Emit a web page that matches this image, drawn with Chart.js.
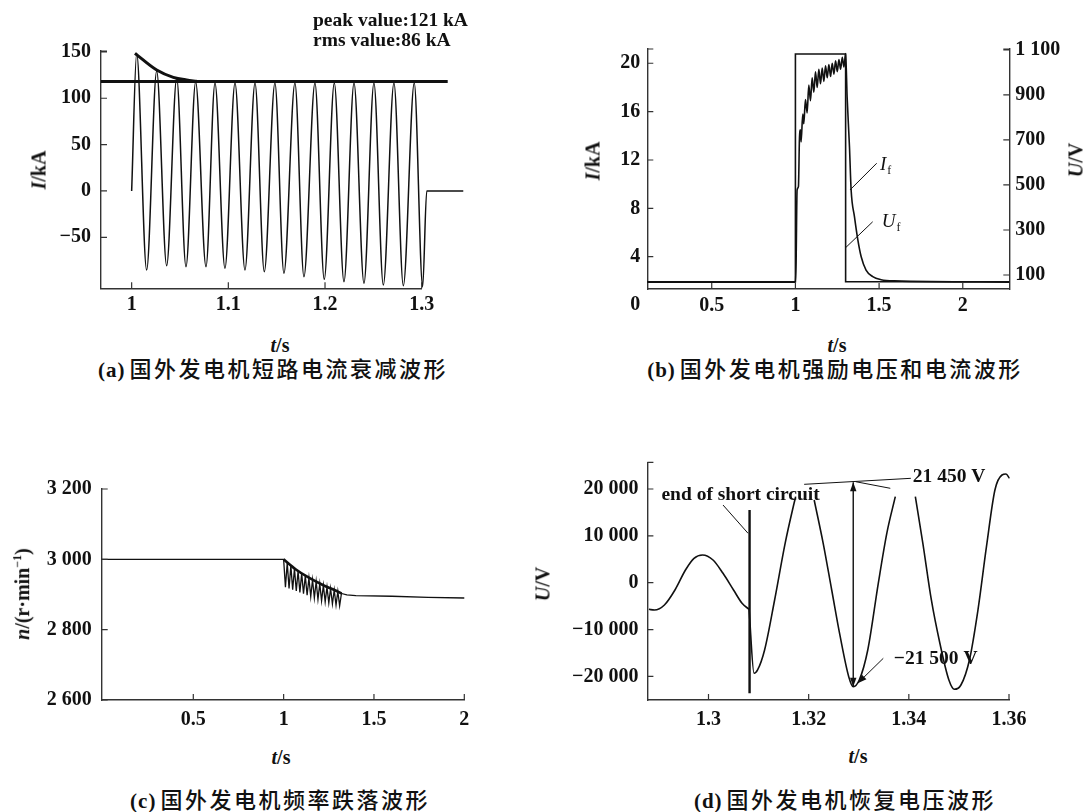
<!DOCTYPE html>
<html>
<head>
<meta charset="utf-8">
<script src="https://cdn.jsdelivr.net/npm/chart.js@4/dist/chart.umd.min.js"></script>
<style>
  html, body { margin: 0; padding: 0; background: #fff; }
  #page { position: relative; width: 1089px; height: 812px; overflow: hidden; background: #fff; }
  #page canvas { position: absolute; }
  .txt { position: absolute; font: bold 20px "Liberation Serif", serif; color: #111; white-space: nowrap; transform: translate(-50%, -50%); }
  .rot { transform: translate(-50%, -50%) rotate(-90deg); }
  .note { position: absolute; font: bold 19.5px "Liberation Serif", serif; color: #111; white-space: nowrap; transform: translateY(-50%); }
  .cap { position: absolute; font: 500 22px "Noto Sans CJK SC", sans-serif; letter-spacing: 2.5px; color: #111; white-space: nowrap; transform: translate(-50%, -50%); }
  .cap b { font: bold 21px "Liberation Serif", serif; letter-spacing: 1px; margin-right: 4px; }
  sup { font-size: 12px; }
</style>
</head>
<body>
<div id="page">
  <canvas id="chartA" width="480" height="330" style="left:0;top:0"></canvas>
  <canvas id="chartB" width="549" height="330" style="left:540px;top:0"></canvas>
  <canvas id="chartC" width="500" height="320" style="left:0;top:420px"></canvas>
  <canvas id="chartD" width="569" height="330" style="left:520px;top:410px"></canvas>

  <div class="note" style="left:313px;top:20px">peak value:121 kA</div>
  <div class="note" style="left:313px;top:40px">rms value:86 kA</div>

  <div class="txt rot" style="left:39px;top:170px"><i>I</i>/kA</div>
  <div class="txt" style="left:280px;top:345px"><i>t</i>/s</div>
  <div class="txt rot" style="left:593px;top:161px"><i>I</i>/kA</div>
  <div class="txt rot" style="left:1076px;top:160px"><i>U</i>/V</div>
  <div class="txt" style="left:837px;top:345px"><i>t</i>/s</div>
  <div class="txt rot" style="left:22px;top:594px"><i>n</i>/(r·min<sup>−1</sup>)</div>
  <div class="txt" style="left:281px;top:757px"><i>t</i>/s</div>
  <div class="txt rot" style="left:543px;top:584px"><i>U</i>/V</div>
  <div class="txt" style="left:858px;top:756px"><i>t</i>/s</div>

  <div class="cap" style="left:273px;top:367px"><b>(a)</b>国外发电机短路电流衰减波形</div>
  <div class="cap" style="left:835px;top:367px"><b>(b)</b>国外发电机强励电压和电流波形</div>
  <div class="cap" style="left:280px;top:798px"><b>(c)</b>国外发电机频率跌落波形</div>
  <div class="cap" style="left:845px;top:798px"><b>(d)</b>国外发电机恢复电压波形</div>
</div>

<script>
// ============================================
// GENERATOR FAULT WAVEFORMS
// (a) short-circuit current, (b) field forcing,
// (c) speed drop, (d) recovery voltage
// ============================================

const INK = '#111';
const AXIS = '#333';
const TICK_FONT = { family: 'Liberation Serif', size: 20, weight: 'bold' };

// ---- (a) short-circuit current decay ----
const aTime = [1.0, 1.0052, 1.0155, 1.0259, 1.0362, 1.0466, 1.0562, 1.0662, 1.0769, 1.0862, 1.0965,
    1.1069, 1.1172, 1.1276, 1.1372, 1.1482, 1.1575, 1.1689, 1.1782, 1.1896, 1.1992, 1.2096, 1.2196,
    1.2300, 1.2403, 1.2506, 1.2603, 1.2713, 1.2810, 1.2923, 1.3010, 1.3052, 1.3430];
const aCurrent = [0, 148.5, -85.2, 129.4, -80.6, 121.5, -81.7, 117.5, -81.7, 116.5, -83.4,
    116.5, -85.2, 116.5, -87.1, 116.5, -88.8, 116.5, -92.5, 116.5, -95.3, 116.5, -97.9,
    116.5, -99.6, 116.5, -101.4, 116.5, -102.2, 116.5, -103.3, 0, 0];
const aEnvTime = [1.0034, 1.0259, 1.0431, 1.0569, 1.0672];
const aEnvCurrent = [148.5, 130.5, 122.6, 119.7, 118.3];
const aPeakTime = [0.9683, 1.3269];
const aPeakCurrent = [118, 118];
const aXTicks = [1, 1.1, 1.2, 1.3];
const aXLabels = ['1', '1.1', '1.2', '1.3'];
const aYTicks = [-50, 0, 50, 100, 150];
const aYLabels = ['−50', '0', '50', '100', '150'];

// ---- (b) field voltage and current ----
const bTimeI = [0.115, 1.0, 1.004, 1.010, 1.018, 1.024, 1.030, 1.034, 1.044, 1.05, 1.06, 1.07, 1.08,
    1.09, 1.10, 1.11, 1.12, 1.13, 1.14, 1.15, 1.16, 1.17, 1.18, 1.19, 1.20, 1.21, 1.22, 1.23, 1.24,
    1.25, 1.26, 1.27, 1.28, 1.29, 1.30, 1.309, 1.323, 1.333, 1.353, 1.373, 1.393, 1.422, 1.462,
    1.512, 1.591, 2.278];
const bCurrent = [1.9, 1.9, 3.5, 9.5, 9.8, 13.7, 14.5, 13.5, 15.8, 15.0, 17.0, 15.9, 18.2,
    16.9, 18.8, 17.6, 19.3, 18.0, 19.5, 18.3, 19.6, 18.5, 19.8, 18.8, 19.9, 18.9, 20.0, 19.1, 20.2,
    19.3, 20.3, 19.5, 20.5, 19.7, 20.8, 17.2, 13.1, 9.5, 7.3, 5.4, 4.0, 2.9, 2.35,
    2.1, 2.0, 1.9];
const bTimeU = [0.115, 1.0, 1.0, 1.30, 1.30, 2.278];
const bVoltage = [70, 70, 1082, 1082, 70, 70];
const bXTicks = [0.5, 1, 1.5, 2];
const bXLabels = ['0.5', '1', '1.5', '2'];
const bYTicks = [4, 8, 12, 16, 20];
const bYLabels = ['4', '8', '12', '16', '20'];
const bY2Ticks = [100, 300, 500, 700, 900, 1100];
const bY2Labels = ['100', '300', '500', '700', '900', '1 100'];
const bExtraYTicks = [0];
const bExtraYLabels = ['0'];
const bLeaderFrom = [[1.326, 9.52], [1.2963, 4.70]];
const bLeaderTo = [[1.4857, 11.73], [1.4618, 6.89]];
const bNoteText = ['I', 'U'];
const bNoteSub = ['f', 'f'];
const bNoteAt = [[1.505, 11.59], [1.5155, 6.90]];

// ---- (c) speed drop ----
const cTime = [-0.007, 1.00, 1.01, 1.02, 1.03, 1.04, 1.05, 1.06, 1.07, 1.08, 1.09, 1.10, 1.11,
    1.12, 1.13, 1.14, 1.15, 1.16, 1.17, 1.18, 1.19, 1.20, 1.21, 1.22, 1.23, 1.24, 1.25, 1.26, 1.27,
    1.28, 1.29, 1.30, 1.31, 1.32, 1.35, 1.40, 1.60, 1.80, 2.00];
const cSpeed = [3000, 3000, 2921, 2990, 2917, 2982, 2914, 2974, 2910, 2967, 2906, 2960, 2902,
    2953, 2898, 2947, 2894, 2942, 2890, 2937, 2886, 2931, 2882, 2926, 2879, 2921, 2876, 2917, 2873,
    2913, 2870, 2909, 2868, 2903, 2899, 2897, 2895, 2892, 2890];
const cEnvTime = [1.0, 1.066, 1.142, 1.217, 1.293, 1.321];
const cEnvSpeed = [3000, 2972, 2947, 2927, 2910, 2903];
const cXTicks = [0.5, 1, 1.5, 2];
const cXLabels = ['0.5', '1', '1.5', '2'];
const cYTicks = [2600, 2800, 3000, 3200];
const cYLabels = ['2 600', '2 800', '3 000', '3 200'];

// ---- (d) recovery voltage: before and after the short circuit is cleared ----
const dTimePre = [1.2881, 1.2892, 1.2912, 1.2933, 1.2954, 1.2971, 1.2988, 1.3009, 1.3029, 1.3050,
    1.3067, 1.3081];
const dVoltagePre = [-5680, -5830, -4760, -1560, 2710, 5200, 5910, 4850, 2000, -1560,
    -4400, -5680];
const dTimePost = [1.3081, 1.3091, 1.3098, 1.3112, 1.3132, 1.3153, 1.3170, 1.3174, 1.3192, 1.3211,
    1.3229, 1.3246, 1.3263, 1.3280, 1.3289, 1.3301, 1.3318, 1.3339, 1.3356, 1.3373, 1.3393, 1.3413,
    1.3428, 1.3445, 1.3462, 1.3480, 1.3491, 1.3504, 1.3521, 1.3538, 1.3555, 1.3572, 1.3586, 1.3594,
    1.3601];
const dVoltagePost = [-5680, -19340, -18630, -14360, -3690, 8410, 16580, 18360, null, 17650,
    8410, -1560, -11530, -20060, -22200, -20770, -14360, -130, 10540, 18360, null, 18360,
    8410, -3690, -12930, -20770, -22750, -21840, -16500, -5830, 7680, 19840, 22990, 23200,
    22280];
const dShortTime = [1.3082, 1.3082];
const dShortVoltage = [15520, -23600];
const dArrowTime = [1.3289, 1.3289];
const dArrowVoltage = [21450, -22200];
const dLeaderFrom = [[1.3029, 16580], [1.3191, 21000], [1.3294, 21560], [1.3349, -16140]];
const dLeaderTo = [[1.3079, 10540], [1.3404, 22280], [1.3363, 20150], [1.3298, -21470]];
const dNoteText = ['end of short circuit', '21 450 V', '−21 500 V'];
const dNoteAt = [[1.2906, 18720], [1.3408, 22630], [1.3370, -16350]];
const dXTicks = [1.3, 1.32, 1.34, 1.36];
const dXLabels = ['1.3', '1.32', '1.34', '1.36'];
const dYTicks = [-20000, -10000, 0, 10000, 20000];
const dYLabels = ['−20 000', '−10 000', '0', '10 000', '20 000'];

// ============================================
// helpers
// ============================================

function points(xs, ys) {
    return xs.map((x, i) => ({ x, y: ys[i] }));
}

function line(data, width, extra) {
    return Object.assign({
        data, borderColor: INK, borderWidth: width, pointRadius: 0, fill: false, tension: 0
    }, extra || {});
}

function axisOpts(o) {
    return {
        type: 'linear',
        position: o.position,
        bounds: 'data',
        grid: { display: false, drawTicks: false },
        border: { display: true, color: AXIS, width: 1.4 },
        ticks: {
            autoSkip: false, maxRotation: 0, minRotation: 0, padding: o.pad,
            color: INK, font: TICK_FONT, callback: (v, i) => o.labels[i]
        },
        afterDataLimits: s => { s.min = o.min; s.max = o.max; },
        afterBuildTicks: s => { s.ticks = o.ticks.map(v => ({ value: v })); },
        afterFit: s => { if (s.isHorizontal()) s.height = o.size; else s.width = o.size; }
    };
}

// tick marks point into the plot, plus a small cap at the top of each y axis
const innerTicks = {
    id: 'innerTicks',
    afterDraw(chart) {
        const { ctx, chartArea: area } = chart;
        const len = 6;
        ctx.save();
        ctx.strokeStyle = AXIS;
        ctx.lineWidth = 1.2;
        ctx.beginPath();
        Object.values(chart.scales).forEach(scale => {
            if (scale.isHorizontal()) {
                scale.ticks.forEach(t => {
                    const p = scale.getPixelForValue(t.value);
                    ctx.moveTo(p, area.bottom);
                    ctx.lineTo(p, area.bottom - len);
                });
                return;
            }
            const right = scale.position === 'right';
            const edge = right ? area.right : area.left;
            const dir = right ? -1 : 1;
            scale.ticks.forEach(t => {
                const p = scale.getPixelForValue(t.value);
                ctx.moveTo(edge, p);
                ctx.lineTo(edge + dir * len, p);
            });
            ctx.moveTo(edge, area.top);
            ctx.lineTo(edge + dir * len, area.top);
        });
        ctx.stroke();
        ctx.restore();
    }
};

function arrowHead(ctx, x1, y1, x2, y2) {
    const ang = Math.atan2(y2 - y1, x2 - x1);
    const L = 9, W = 3.2;
    ctx.beginPath();
    ctx.moveTo(x2, y2);
    ctx.lineTo(x2 - L * Math.cos(ang) + W * Math.sin(ang), y2 - L * Math.sin(ang) - W * Math.cos(ang));
    ctx.lineTo(x2 - L * Math.cos(ang) - W * Math.sin(ang), y2 - L * Math.sin(ang) + W * Math.cos(ang));
    ctx.closePath();
    ctx.fill();
}

// leader lines, arrows and labels placed in data coordinates
function notesPlugin(spec) {
    return {
        id: 'notes',
        afterDatasetsDraw(chart) {
            const ctx = chart.ctx;
            const xs = chart.scales.x;
            const ys = chart.scales[spec.yId || 'y'];
            const px = p => [xs.getPixelForValue(p[0]), ys.getPixelForValue(p[1])];
            ctx.save();
            ctx.strokeStyle = INK;
            ctx.fillStyle = INK;
            ctx.lineWidth = 1;
            spec.from.forEach((f, i) => {
                const [x1, y1] = px(f);
                const [x2, y2] = px(spec.to[i]);
                ctx.beginPath();
                ctx.moveTo(x1, y1);
                ctx.lineTo(x2, y2);
                ctx.stroke();
                if (spec.headAt && spec.headAt.includes(i)) arrowHead(ctx, x1, y1, x2, y2);
            });
            if (spec.arrow) {
                ctx.lineWidth = 1.4;
                const [x1, y1] = px(spec.arrow[0]);
                const [x2, y2] = px(spec.arrow[1]);
                ctx.beginPath();
                ctx.moveTo(x1, y1);
                ctx.lineTo(x2, y2);
                ctx.stroke();
                arrowHead(ctx, x1, y1, x2, y2);
                arrowHead(ctx, x2, y2, x1, y1);
            }
            ctx.textAlign = 'left';
            ctx.textBaseline = 'middle';
            spec.text.forEach((t, i) => {
                const [x, y] = px(spec.at[i]);
                ctx.font = spec.font;
                ctx.fillText(t, x, y);
                if (spec.sub) {
                    const w = ctx.measureText(t).width;
                    ctx.font = spec.subFont;
                    ctx.fillText(spec.sub[i], x + w + 1, y + 6);
                }
            });
            ctx.restore();
        }
    };
}

function makeChart(id, datasets, scales, pad, plugins) {
    return new Chart(document.getElementById(id), {
        type: 'line',
        data: { datasets },
        options: {
            responsive: false,
            maintainAspectRatio: false,
            animation: false,
            layout: { padding: pad },
            plugins: { legend: { display: false }, tooltip: { enabled: false } },
            scales
        },
        plugins: [innerTicks].concat(plugins || [])
    });
}

// ============================================
// (a)
// ============================================
makeChart('chartA', [
    line(points(aTime, aCurrent), 1.5, { clip: false, cubicInterpolationMode: 'monotone' }),
    line(points(aEnvTime, aEnvCurrent), 3, { cubicInterpolationMode: 'monotone' }),
    line(points(aPeakTime, aPeakCurrent), 3, { clip: false })
], {
    x: axisOpts({ position: 'bottom', min: 0.9683, max: 1.3, ticks: aXTicks, labels: aXLabels, pad: 5, size: 41.7 }),
    y: axisOpts({ position: 'left', min: -105, max: 151, ticks: aYTicks, labels: aYLabels, pad: 10, size: 101 })
}, { top: 51, right: 58.3, left: 0, bottom: 0 });

// ============================================
// (b)
// ============================================
const bZeroLabel = {
    id: 'zeroLabel',
    afterDraw(chart) {
        const s = chart.scales.y;
        const ctx = chart.ctx;
        ctx.save();
        ctx.font = 'bold 20px "Liberation Serif"';
        ctx.fillStyle = INK;
        ctx.textAlign = 'right';
        ctx.textBaseline = 'middle';
        bExtraYTicks.forEach((v, i) => ctx.fillText(bExtraYLabels[i], s.right - 7, s.getPixelForValue(v)));
        ctx.restore();
    }
};

makeChart('chartB', [
    line(points(bTimeU, bVoltage), 1.6, { yAxisID: 'y2' }),
    line(points(bTimeI, bCurrent), 1.6, { yAxisID: 'y', cubicInterpolationMode: 'monotone' })
], {
    x: axisOpts({ position: 'bottom', min: 0.115, max: 2.278, ticks: bXTicks, labels: bXLabels, pad: 5, size: 41 }),
    y: axisOpts({ position: 'left', min: 1.33, max: 21.18, ticks: bYTicks, labels: bYLabels, pad: 7, size: 107.3 }),
    y2: axisOpts({ position: 'right', min: 37.8, max: 1104, ticks: bY2Ticks, labels: bY2Labels, pad: 6, size: 79.7 })
}, { top: 49, right: 0, left: 0, bottom: 0 }, [
    bZeroLabel,
    notesPlugin({
        from: bLeaderFrom, to: bLeaderTo, text: bNoteText, sub: bNoteSub, at: bNoteAt,
        font: 'italic 19px "Liberation Serif"', subFont: '12px "Liberation Serif"'
    })
]);

// ============================================
// (c)
// ============================================
makeChart('chartC', [
    line(points(cTime, cSpeed), 1.3),
    line(points(cEnvTime, cEnvSpeed), 2.6, { cubicInterpolationMode: 'monotone' })
], {
    x: axisOpts({ position: 'bottom', min: -0.007, max: 2.0, ticks: cXTicks, labels: cXLabels, pad: 8, size: 40 }),
    y: axisOpts({ position: 'left', min: 2600, max: 3200, ticks: cYTicks, labels: cYLabels, pad: 10, size: 101.7 })
}, { top: 69, right: 35.7, left: 0, bottom: 0 });

// ============================================
// (d)
// ============================================
makeChart('chartD', [
    line(points(dTimePre, dVoltagePre), 1.6, { cubicInterpolationMode: 'monotone' }),
    line(points(dTimePost, dVoltagePost), 1.6, { cubicInterpolationMode: 'monotone' }),
    line(points(dShortTime, dShortVoltage), 2.4)
], {
    x: axisOpts({ position: 'bottom', min: 1.2878, max: 1.36, ticks: dXTicks, labels: dXLabels, pad: 8, size: 40 }),
    y: axisOpts({ position: 'left', min: -25040, max: 25700, ticks: dYTicks, labels: dYLabels, pad: 9, size: 127.4 })
}, { top: 52.3, right: 80, left: 0, bottom: 0 }, [
    notesPlugin({
        from: dLeaderFrom, to: dLeaderTo, headAt: [3], text: dNoteText, at: dNoteAt,
        arrow: [[dArrowTime[0], dArrowVoltage[0]], [dArrowTime[1], dArrowVoltage[1]]],
        font: 'bold 19.5px "Liberation Serif"'
    })
]);
</script>
</body>
</html>
